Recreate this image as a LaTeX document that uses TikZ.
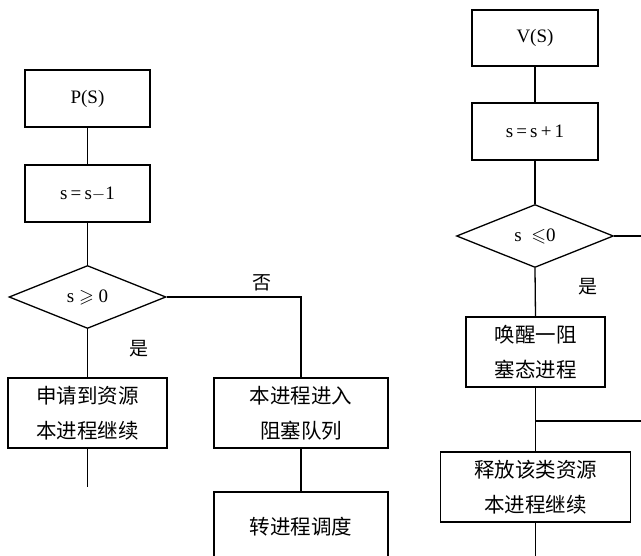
\documentclass[tikz,border=0pt]{standalone}
\usepackage{amssymb}
\usepackage{fontspec}
\setmainfont{Liberation Serif}
\newfontfamily\cjk{Noto Sans CJK SC}
\usetikzlibrary{shapes.geometric}
\begin{document}
\begin{tikzpicture}[x=1pt,y=-1pt,
  box/.style={draw,line width=1.3pt,inner sep=0pt,align=center,font=\fontsize{19}{35}\selectfont},
  cbox/.style={box,font=\cjk\fontsize{20.5}{35}\selectfont},
  dia/.style={draw,diamond,line width=1.3pt,inner sep=0pt,minimum width=157pt,minimum height=63pt,font=\fontsize{19}{23}\selectfont},
  con/.style={line width=1.3pt},
  lbl/.style={font=\cjk\fontsize{19}{22}\selectfont,inner sep=0pt}]
\useasboundingbox (0,0) rectangle (641,556);
\clip (0,0) rectangle (641,556);
% left column
\node[box,minimum width=125pt,minimum height=57pt] (ps) at (87.5,98.5) {P(S)};
\node[box,minimum width=125pt,minimum height=57pt] (s1) at (87.5,193.5) {s\,=\,s$-$1};
\node[dia] (d1) at (87.5,297) {s $\geqslant$ 0};
\node[cbox,minimum width=159pt,minimum height=70pt] (ok) at (87.5,413) {申请到资源\\本进程继续};
\node[cbox,minimum width=174pt,minimum height=70pt] (blk) at (301,413) {本进程进入\\阻塞队列};
\node[cbox,minimum width=174pt,minimum height=70pt] (sch) at (301,527) {转进程调度};
\coordinate (okend) at (87.5,487);
\node[lbl] (no) at (262,283) {否};
\node[lbl] (yes1) at (139,349) {是};
\draw[con] (ps.south) -- (s1.north);
\draw[con] (s1.south) -- (d1.north);
\draw[con] (d1.east) -| (blk.north);
\draw[con] (d1.south) -- (ok.north);
\draw[con] (ok.south) -- (okend);
\draw[con] (blk.south) -- (sch.north);
% right column
\node[box,minimum width=126pt,minimum height=56pt] (vs) at (535,38) {V(S)};
\node[box,minimum width=126pt,minimum height=57pt] (s2) at (535,131.5) {s\,=\,s\,+\,1};
\node[dia] (d2) at (535,236) {s\ \ $\leqslant$0};
\node[cbox,minimum width=139pt,minimum height=70pt] (wk) at (535.5,352) {唤醒一阻\\塞态进程};
\node[cbox,minimum width=190pt,minimum height=70pt] (rel) at (535.5,487) {释放该类资源\\本进程继续};
\node[lbl] (yes2) at (588,287) {是};
\coordinate (d2out) at (645,236);
\coordinate (join) at (535.5,421);
\coordinate (joinout) at (645,421);
\coordinate (relend) at (535.5,560);
\draw[con] (vs.south) -- (s2.north);
\draw[con] (s2.south) -- (d2.north);
\draw[con] (d2.east) -- (d2out);
\draw[con] (d2.south) -- (wk.north);
\draw[con] (wk.south) -- (rel.north);
\draw[con] (join) -- (joinout);
\draw[con] (rel.south) -- (relend);
\end{tikzpicture}
\end{document}
